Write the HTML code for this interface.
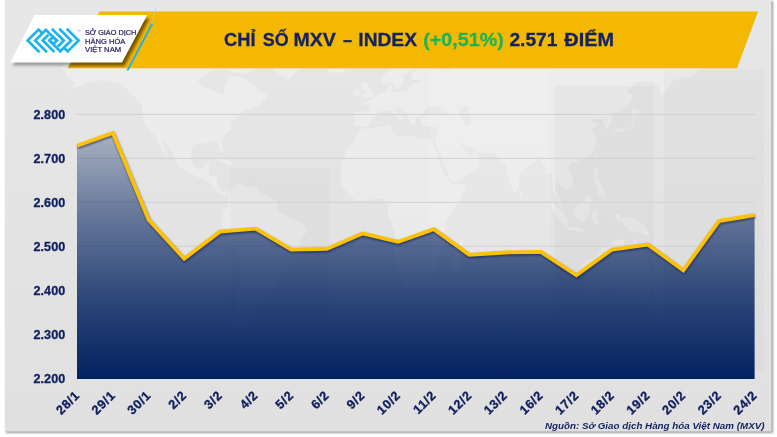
<!DOCTYPE html>
<html><head><meta charset="utf-8">
<style>
html,body{margin:0;padding:0;background:#fff;}
body{width:777px;height:437px;overflow:hidden;position:relative;font-family:"Liberation Sans",sans-serif;}
svg{position:absolute;left:0;top:0;}
.yl{font:bold 12.6px "Liberation Sans",sans-serif;fill:#11205e;letter-spacing:0.1px;stroke:#11205e;stroke-width:0.3px;}
.xl{font:bold 12.6px "Liberation Sans",sans-serif;fill:#11205e;letter-spacing:0.7px;stroke:#11205e;stroke-width:0.35px;}
.ttl{font:bold 19.2px "Liberation Sans",sans-serif;fill:#14225f;stroke:#14225f;stroke-width:0.3px;}
.grn{fill:#1fb356;stroke:#1fb356;}
.src{font:italic bold 9.8px "Liberation Sans",sans-serif;fill:#14225f;}
.lg{font:7.2px "Liberation Sans",sans-serif;fill:#2a2560;stroke:#2a2560;stroke-width:0.22px;}
</style></head><body>
<svg width="777" height="437" viewBox="0 0 777 437">
<defs>
<linearGradient id="bg" x1="0" y1="0" x2="0" y2="1"><stop offset="0" stop-color="#e7e7e7"/><stop offset="1" stop-color="#e0e0e0"/></linearGradient>
<linearGradient id="fill" gradientUnits="userSpaceOnUse" x1="0" y1="133" x2="0" y2="378">
<stop offset="0" stop-color="#032260" stop-opacity="0.26"/>
<stop offset="0.069" stop-color="#032260" stop-opacity="0.325"/>
<stop offset="0.355" stop-color="#032260" stop-opacity="0.575"/>
<stop offset="0.682" stop-color="#032260" stop-opacity="0.81"/>
<stop offset="1" stop-color="#032260" stop-opacity="1"/>
</linearGradient>
<filter id="sh" x="-10%" y="-20%" width="130%" height="150%"><feGaussianBlur stdDeviation="2"/></filter>
<filter id="sh2" x="-10%" y="-10%" width="120%" height="120%"><feGaussianBlur stdDeviation="1.2"/></filter>
<filter id="sh3" x="-10%" y="-20%" width="130%" height="150%"><feGaussianBlur stdDeviation="1.6"/></filter>
<filter id="mb2" x="-5%" y="-5%" width="110%" height="110%"><feGaussianBlur stdDeviation="0.5"/></filter>
<filter id="mb" x="-5%" y="-5%" width="110%" height="110%"><feGaussianBlur stdDeviation="0.8"/></filter>
<clipPath id="yc"><path d="M99.5,11.6 L758,11.6 L737,68.2 L67.5,68.2 Z"/></clipPath>
<clipPath id="pc"><rect x="5" y="0" width="766.5" height="431.5"/></clipPath>
</defs>
<rect x="0" y="0" width="777" height="437" fill="#ffffff"/>
<g opacity="0.999">
<rect x="6" y="1" width="767" height="432" fill="#9a9a9a" filter="url(#sh2)"/>
<rect x="5" y="0" width="766.5" height="431.5" fill="url(#bg)"/>
<g clip-path="url(#pc)">
<g fill="#ffffff" opacity="0.28" filter="url(#mb2)">
<path fill-rule="evenodd" d="M60.7,68.6 L71.8,61.0 L94.0,59.1 L131.0,61.0 L158.8,62.9 L186.5,64.8 L195.8,57.2 L214.2,61.0 L219.8,68.6 L208.7,72.4 L197.6,80.0 L201.3,85.7 L219.8,93.3 L225.3,95.2 L223.5,87.6 L229.0,80.0 L227.2,76.2 L238.3,76.2 L251.2,81.9 L260.5,91.4 L267.9,95.2 L260.5,104.7 L253.1,108.5 L249.4,109.5 L242.0,111.3 L240.2,115.2 L234.6,118.0 L230.9,125.0 L230.9,129.8 L225.3,134.4 L221.7,141.5 L223.5,150.9 L220.7,152.1 L218.9,146.2 L216.1,141.5 L208.7,140.3 L205.0,143.8 L197.6,142.7 L192.0,147.4 L191.1,160.3 L195.8,168.5 L203.2,168.5 L205.0,162.7 L210.5,161.5 L208.7,172.1 L208.7,175.6 L216.1,175.6 L217.9,186.2 L221.7,192.0 L227.2,190.8 L229.0,194.4 L223.5,195.6 L217.9,192.0 L212.4,186.2 L208.7,181.4 L201.3,177.9 L193.9,175.6 L186.5,172.1 L177.2,165.0 L175.4,157.9 L169.8,148.6 L164.3,141.5 L160.6,139.1 L164.3,148.6 L168.0,157.9 L164.3,153.2 L158.8,143.8 L155.0,135.6 L149.5,130.9 L145.8,125.0 L142.1,116.1 L142.1,104.7 L134.7,97.1 L127.3,89.5 L119.9,82.8 L103.2,80.0 L90.3,81.9 L79.2,85.7 L68.1,89.5 L75.5,82.8 L66.2,76.2 L64.4,70.5 Z"/>
<path fill-rule="evenodd" d="M273.4,70.5 L288.2,80.0 L297.5,70.5 L325.2,61.0 L334.5,51.5 L330.8,42.0 L297.5,36.3 L260.5,38.2 L245.7,45.8 L264.2,53.4 L273.4,61.0 Z"/>
<path fill-rule="evenodd" d="M223.5,55.3 L242.0,59.1 L256.8,68.6 L245.7,74.3 L227.2,70.5 L214.2,61.0 Z"/>
<path fill-rule="evenodd" d="M214.2,160.3 L223.5,157.9 L232.8,163.8 L229.0,165.5 L219.8,160.8 Z"/>
<path fill-rule="evenodd" d="M229.0,194.4 L232.8,186.2 L238.3,183.8 L245.7,186.2 L256.8,187.3 L260.5,193.2 L275.3,200.2 L279.0,212.0 L290.1,217.9 L303.1,223.8 L306.8,230.8 L299.4,242.6 L299.4,254.3 L293.8,266.1 L282.7,273.1 L273.4,289.6 L266.1,296.6 L256.8,303.6 L251.2,313.1 L245.7,329.5 L243.8,338.9 L234.6,334.2 L232.8,320.1 L236.4,306.0 L236.4,294.2 L240.2,282.5 L242.0,259.0 L232.8,247.2 L227.2,235.5 L221.7,223.8 L223.5,212.0 L227.2,207.3 Z"/>
<path fill-rule="evenodd" d="M340.1,177.5 L341.9,165.0 L347.4,148.6 L353.0,141.5 L360.4,128.6 L371.5,128.6 L390.0,125.0 L391.9,132.1 L399.2,136.8 L408.5,135.6 L417.8,138.0 L430.7,139.1 L434.4,146.2 L438.1,157.9 L441.8,169.7 L451.1,183.8 L465.9,185.0 L460.3,200.2 L449.2,214.3 L445.5,223.8 L443.6,235.5 L445.5,247.2 L436.2,259.0 L436.2,268.4 L430.7,280.1 L421.4,291.9 L408.5,293.1 L404.8,287.2 L399.2,275.4 L393.7,254.3 L395.6,235.5 L388.1,214.3 L388.1,202.6 L380.8,197.9 L365.9,200.2 L356.7,201.4 L347.4,193.2 L341.9,185.0 Z"/>
<path fill-rule="evenodd" d="M452.9,270.8 L458.4,270.8 L464.0,249.6 L462.1,240.2 L452.9,251.9 Z"/>
<path fill-rule="evenodd" d="M354.9,125.0 L353.9,112.3 L367.8,111.3 L369.6,106.6 L363.2,102.8 L368.7,100.9 L375.2,97.1 L378.9,94.2 L386.3,91.4 L387.2,85.7 L390.9,84.8 L393.7,89.5 L390.0,91.4 L397.4,91.4 L406.6,90.5 L410.4,85.7 L415.9,81.9 L423.3,80.0 L414.1,80.0 L410.4,74.3 L417.8,69.6 L412.2,69.6 L402.9,76.2 L404.8,80.0 L401.1,86.7 L395.6,88.5 L391.9,81.9 L382.6,83.8 L380.8,78.1 L386.3,72.4 L397.4,64.8 L408.5,61.0 L423.3,59.1 L430.7,62.0 L447.4,66.7 L445.5,70.5 L436.2,72.4 L441.8,72.4 L452.9,68.6 L458.4,64.8 L473.2,63.9 L482.5,62.9 L497.3,62.9 L501.0,55.3 L519.5,55.3 L538.0,51.5 L556.5,46.8 L575.0,49.6 L580.5,53.4 L602.8,54.4 L621.2,58.2 L639.8,56.2 L667.5,61.0 L686.0,61.0 L704.5,63.9 L700.8,70.5 L691.5,76.2 L673.0,80.0 L667.5,89.5 L660.1,97.1 L660.1,85.7 L652.7,81.9 L636.0,81.9 L626.8,91.4 L632.4,95.2 L630.5,102.8 L621.2,111.3 L612.0,113.2 L610.1,125.0 L605.5,130.9 L604.6,122.7 L600.9,118.0 L595.4,120.3 L589.8,120.3 L597.2,125.0 L591.6,129.8 L595.4,136.8 L597.2,141.5 L593.5,150.9 L588.0,156.8 L580.5,160.3 L575.0,162.7 L571.3,161.5 L567.6,167.3 L572.2,176.8 L573.1,183.8 L569.5,187.3 L565.8,190.8 L565.8,187.3 L562.0,186.2 L556.5,180.3 L555.6,188.5 L558.4,195.6 L563.0,208.5 L558.4,204.9 L553.7,193.2 L552.8,183.8 L551.9,173.2 L545.4,174.4 L545.4,167.3 L540.8,159.1 L536.1,160.3 L532.5,162.7 L528.8,166.2 L519.5,175.6 L519.5,183.8 L514.9,193.2 L512.1,188.5 L507.5,174.4 L506.6,163.8 L501.0,162.7 L497.3,156.8 L494.5,153.2 L486.2,153.2 L476.9,152.1 L475.1,148.6 L465.9,146.2 L460.3,141.5 L464.0,148.6 L465.9,154.4 L471.4,155.6 L475.1,150.9 L480.6,157.9 L478.8,167.3 L473.2,172.1 L467.7,174.4 L454.8,181.4 L451.1,181.4 L449.2,174.4 L443.6,162.7 L439.9,153.2 L436.2,146.2 L435.3,138.0 L438.1,127.4 L432.6,126.2 L427.0,126.2 L421.4,125.0 L419.6,119.2 L425.1,116.1 L432.6,114.2 L439.9,116.1 L447.4,116.1 L447.4,112.3 L439.9,108.5 L443.6,104.7 L436.2,106.6 L432.6,108.5 L432.6,106.6 L427.0,106.6 L423.3,112.3 L423.3,115.2 L419.6,117.0 L415.0,118.0 L415.9,122.7 L413.1,126.2 L410.4,121.5 L407.6,117.0 L406.6,113.2 L399.2,108.5 L396.5,107.5 L394.6,110.4 L401.1,115.2 L405.7,118.0 L402.0,119.2 L401.1,122.7 L399.2,118.0 L393.7,114.2 L390.0,110.4 L384.4,111.3 L378.9,111.3 L377.1,114.2 L371.5,119.2 L370.6,122.7 L367.8,125.5 L362.2,126.9 Z M458.4,108.5 L465.9,105.7 L469.6,108.5 L467.7,114.2 L471.4,118.0 L470.5,125.0 L464.0,125.0 L462.1,118.0 L458.4,113.2 Z"/>
<path fill-rule="evenodd" d="M361.3,99.0 L373.4,97.1 L374.3,93.7 L371.5,91.4 L367.8,87.6 L367.8,84.4 L364.1,82.8 L360.4,83.8 L362.2,87.6 L365.9,90.5 L365.6,92.7 L363.2,93.3 L362.2,95.6 L365.0,96.3 Z"/>
<path fill-rule="evenodd" d="M353.0,95.2 L360.4,95.2 L360.4,89.5 L356.7,88.9 L353.0,91.4 Z"/>
<path fill-rule="evenodd" d="M327.1,69.6 L330.8,72.4 L338.2,73.3 L345.6,70.5 L341.9,67.7 L330.8,68.0 Z"/>
<path fill-rule="evenodd" d="M612.0,138.0 L615.7,132.1 L621.2,132.1 L625.0,130.2 L630.5,128.6 L632.4,121.5 L633.3,116.1 L630.5,114.2 L633.3,107.5 L639.8,110.4 L639.8,112.3 L634.2,114.2 L634.2,119.2 L632.4,125.0 L630.5,127.4 L626.8,128.6 L621.2,128.6 L616.6,128.6 L612.9,133.3 Z"/>
<path fill-rule="evenodd" d="M548.2,199.1 L552.8,202.6 L558.4,207.3 L563.9,214.3 L567.6,219.1 L567.6,226.1 L563.9,224.9 L558.4,219.1 L553.7,210.8 Z"/>
<path fill-rule="evenodd" d="M566.7,227.3 L571.3,227.3 L576.9,227.3 L583.3,229.6 L582.4,232.0 L575.0,230.8 L567.6,229.6 Z"/>
<path fill-rule="evenodd" d="M573.1,208.5 L576.9,207.3 L580.5,203.8 L584.2,200.2 L588.0,195.6 L591.6,200.2 L589.8,206.1 L589.8,209.7 L588.0,214.3 L586.1,220.2 L582.4,221.4 L577.8,219.5 L575.0,215.5 Z"/>
<path fill-rule="evenodd" d="M592.6,212.0 L595.4,209.7 L602.8,208.5 L595.4,212.0 L599.0,214.3 L596.3,216.7 L598.1,222.6 L594.4,224.9 L593.5,219.1 L591.6,219.1 Z"/>
<path fill-rule="evenodd" d="M613.9,213.2 L619.4,214.3 L621.2,219.8 L626.8,216.2 L632.4,218.1 L639.8,222.1 L644.4,226.1 L649.9,236.7 L643.5,234.3 L637.9,230.3 L635.1,233.2 L628.7,230.8 L626.8,227.3 L622.2,222.6 L617.5,221.4 L616.6,218.3 Z"/>
<path fill-rule="evenodd" d="M594.4,168.5 L597.2,168.5 L597.6,174.4 L596.3,179.1 L600.9,181.4 L600.9,186.2 L604.6,189.7 L605.2,196.7 L602.8,197.9 L600.0,194.4 L597.2,195.6 L599.0,190.8 L598.1,187.3 L595.4,183.8 L594.4,179.1 L593.5,174.4 Z"/>
<path fill-rule="evenodd" d="M593.9,157.9 L596.3,153.2 L596.8,155.6 L595.0,160.3 Z"/>
<path fill-rule="evenodd" d="M519.5,189.7 L522.8,194.4 L521.4,197.9 L519.5,196.7 Z"/>
<path fill-rule="evenodd" d="M582.4,263.7 L583.3,273.1 L584.2,284.9 L585.2,293.1 L589.8,294.2 L600.0,291.9 L604.6,287.9 L613.9,286.0 L619.4,289.1 L623.1,294.2 L626.8,289.6 L629.6,296.6 L632.4,301.3 L638.8,301.3 L642.5,303.6 L649.0,299.7 L650.9,291.9 L654.5,284.9 L655.5,275.4 L650.9,268.4 L647.2,261.4 L641.6,256.6 L640.7,247.2 L637.0,244.9 L635.1,237.4 L633.3,242.6 L632.4,251.9 L628.7,253.1 L622.2,247.2 L625.0,240.2 L616.6,239.0 L612.0,242.6 L610.1,247.2 L604.6,244.9 L599.0,251.9 L595.4,257.8 L588.0,260.2 Z"/>
</g>
<rect x="555" y="86" width="99" height="230" fill="#000" opacity="0.022"/>
<rect x="664" y="70" width="100" height="300" fill="#000" opacity="0.018"/>
<rect x="230.5" y="168" width="98.5" height="150" fill="#000" opacity="0.02"/>
<rect x="430" y="70" width="120" height="250" fill="#fff" opacity="0.12"/>
</g>
<!-- yellow banner -->
<path d="M99.5,11.6 L758,11.6 L737,68.2 L67.5,68.2 Z" fill="#f4b800"/>
<!-- card shadow -->
<g clip-path="url(#yc)"><path d="M37,18.5 L149.5,18.5 L124.5,66 L13,66 Z" fill="#4a3000" opacity="0.75" filter="url(#sh3)"/></g>
<path d="M36,18 L60,18 L72,65.5 L12.5,65.5 Z" fill="#666" opacity="0.6" filter="url(#sh3)"/>
<path d="M34.5,15 L147.3,15 L122,62.5 L10.3,62.5 Z" fill="#ffffff"/>
<!-- blue lines -->
<line x1="156.2" y1="7.7" x2="151.3" y2="24" stroke="#9fd2e8" stroke-width="0.8"/>
<line x1="152.2" y1="23.8" x2="127.4" y2="70.6" stroke="#25b0ec" stroke-width="2"/>
<!-- logo -->
<svg x="24" y="25.8" width="61" height="30.5" viewBox="0 0 777 388">
<g fill="none" stroke="#19b4f1" stroke-width="34" stroke-linejoin="miter" stroke-linecap="square">
<path d="M222,86 L185,49 L46,187 L185,324"/>
<path d="M280,324 L143,187 L279,51 L415,187"/>
<path d="M300,124 L239,187 L375,322"/>
<path d="M372,139.500 L324.500,187 L372,234.500 L419.500,187 Z"/>
<path d="M366,49 L506,187 L442,251"/>
<path d="M461,49 L600,187 L462,324 L325,187"/>
<path d="M556,49 L696,187 L556,326 L518,288"/>
</g>
</svg>
<rect x="77.6" y="30" width="3" height="1.3" fill="#8fd6f5"/>
<text x="85" y="34.7" class="lg" textLength="51.3" lengthAdjust="spacingAndGlyphs">SỞ GIAO DỊCH</text>
<text x="85" y="43.5" class="lg" textLength="40.3" lengthAdjust="spacingAndGlyphs">HÀNG HÓA</text>
<text x="85" y="52.2" class="lg" textLength="36.2" lengthAdjust="spacingAndGlyphs">VIỆT NAM</text>
<!-- title -->
<text transform="translate(224.1,46.3) scale(0.95,1)" class="ttl">CHỈ</text>
<text transform="translate(262.8,46.3) scale(0.93,1)" class="ttl">SỐ</text>
<text transform="translate(293.5,46.3) scale(1.02,1)" class="ttl">MXV</text>
<text transform="translate(343.0,46.3) scale(0.85,1)" class="ttl">–</text>
<text transform="translate(358.3,46.3) scale(1.0,1)" class="ttl">INDEX</text>
<text transform="translate(423.3,46.3) scale(1.025,1)" class="ttl grn">(+0,51%)</text>
<text transform="translate(509.4,46.3) scale(1.0,1)" class="ttl">2.571</text>
<text transform="translate(564.3,46.3) scale(1.035,1)" class="ttl">ĐIỂM</text>
<!-- grid -->
<line x1="77" x2="754.5" y1="114.4" y2="114.4" stroke="#cdd0d8" stroke-width="1"/>
<line x1="77" x2="754.5" y1="158.3" y2="158.3" stroke="#cdd0d8" stroke-width="1"/>
<line x1="77" x2="754.5" y1="202.3" y2="202.3" stroke="#cdd0d8" stroke-width="1"/>
<line x1="77" x2="754.5" y1="246.2" y2="246.2" stroke="#cdd0d8" stroke-width="1"/>
<line x1="77" x2="754.5" y1="290.1" y2="290.1" stroke="#cdd0d8" stroke-width="1"/>
<line x1="77" x2="754.5" y1="334.1" y2="334.1" stroke="#cdd0d8" stroke-width="1"/>
<text x="65.4" y="119.0" text-anchor="end" class="yl">2.800</text>
<text x="65.4" y="162.9" text-anchor="end" class="yl">2.700</text>
<text x="65.4" y="206.9" text-anchor="end" class="yl">2.600</text>
<text x="65.4" y="250.8" text-anchor="end" class="yl">2.500</text>
<text x="65.4" y="294.7" text-anchor="end" class="yl">2.400</text>
<text x="65.4" y="338.7" text-anchor="end" class="yl">2.300</text>
<text x="65.4" y="382.6" text-anchor="end" class="yl">2.200</text>
<!-- area -->
<path d="M77.0,379 L77.0,145.7 L112.9,133.0 L148.6,219.6 L184.2,258.7 L219.9,231.7 L255.6,228.7 L291.2,249.6 L326.8,248.9 L362.5,233.5 L398.1,241.8 L433.8,229.1 L469.4,254.9 L505.1,252.5 L540.8,251.9 L576.4,275.3 L612.0,249.5 L647.7,244.5 L683.3,270.3 L719.0,221.1 L754.6,215.1 L754.6,379 Z" fill="url(#fill)"/>
<polyline points="77.3,145.7 112.9,133.0 148.6,219.6 184.2,258.7 219.9,231.7 255.6,228.7 291.2,249.6 326.8,248.9 362.5,233.5 398.1,241.8 433.8,229.1 469.4,254.9 505.1,252.5 540.8,251.9 576.4,275.3 612.0,249.5 647.7,244.5 683.3,270.3 719.0,221.1 754.6,215.1" fill="none" stroke="#10204f" stroke-opacity="0.7" stroke-width="3.6" transform="translate(0.5,1.4)" filter="url(#mb)"/>
<polyline points="77.3,145.7 112.9,133.0 148.6,219.6 184.2,258.7 219.9,231.7 255.6,228.7 291.2,249.6 326.8,248.9 362.5,233.5 398.1,241.8 433.8,229.1 469.4,254.9 505.1,252.5 540.8,251.9 576.4,275.3 612.0,249.5 647.7,244.5 683.3,270.3 719.0,221.1 754.6,215.1" fill="none" stroke="#fdc204" stroke-width="3.8" stroke-linejoin="miter"/>
<text transform="translate(80.5,396.0) rotate(-45)" text-anchor="end" class="xl">28/1</text>
<text transform="translate(116.1,396.0) rotate(-45)" text-anchor="end" class="xl">29/1</text>
<text transform="translate(151.8,396.0) rotate(-45)" text-anchor="end" class="xl">30/1</text>
<text transform="translate(187.4,396.0) rotate(-45)" text-anchor="end" class="xl">2/2</text>
<text transform="translate(223.1,396.0) rotate(-45)" text-anchor="end" class="xl">3/2</text>
<text transform="translate(258.8,396.0) rotate(-45)" text-anchor="end" class="xl">4/2</text>
<text transform="translate(294.4,396.0) rotate(-45)" text-anchor="end" class="xl">5/2</text>
<text transform="translate(330.0,396.0) rotate(-45)" text-anchor="end" class="xl">6/2</text>
<text transform="translate(365.7,396.0) rotate(-45)" text-anchor="end" class="xl">9/2</text>
<text transform="translate(401.3,396.0) rotate(-45)" text-anchor="end" class="xl">10/2</text>
<text transform="translate(437.0,396.0) rotate(-45)" text-anchor="end" class="xl">11/2</text>
<text transform="translate(472.6,396.0) rotate(-45)" text-anchor="end" class="xl">12/2</text>
<text transform="translate(508.3,396.0) rotate(-45)" text-anchor="end" class="xl">13/2</text>
<text transform="translate(544.0,396.0) rotate(-45)" text-anchor="end" class="xl">16/2</text>
<text transform="translate(579.6,396.0) rotate(-45)" text-anchor="end" class="xl">17/2</text>
<text transform="translate(615.2,396.0) rotate(-45)" text-anchor="end" class="xl">18/2</text>
<text transform="translate(650.9,396.0) rotate(-45)" text-anchor="end" class="xl">19/2</text>
<text transform="translate(686.5,396.0) rotate(-45)" text-anchor="end" class="xl">20/2</text>
<text transform="translate(722.2,396.0) rotate(-45)" text-anchor="end" class="xl">23/2</text>
<text transform="translate(757.9,396.0) rotate(-45)" text-anchor="end" class="xl">24/2</text>
<text x="764.5" y="428.8" text-anchor="end" class="src">Nguồn: Sở Giao dịch Hàng hóa Việt Nam (MXV)</text>
</g>
</svg>
</body></html>
